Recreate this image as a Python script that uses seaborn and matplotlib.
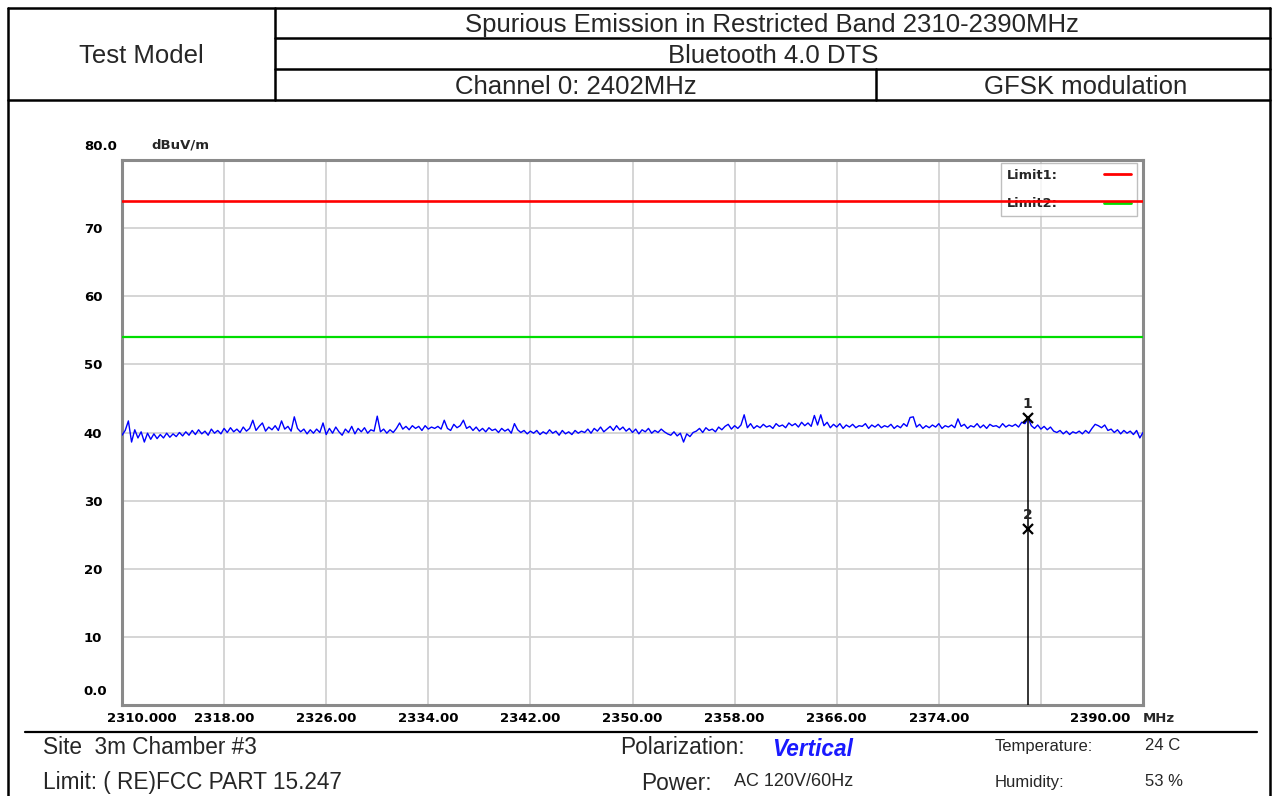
import numpy as np
import pandas as pd
import matplotlib
matplotlib.use("Agg")
import matplotlib.pyplot as plt
import matplotlib.transforms as mtransforms
from matplotlib.lines import Line2D
import seaborn as sns

# ---------------- data ----------------
freq_start = 2310.0
freq_step = 0.25
level_dbuv = [
    39.6, 40.3, 41.7, 38.6, 40.4, 39.2, 40.1, 38.6, 39.9, 39.0, 39.8, 39.1, 39.7, 39.2, 39.9, 39.3, 39.8, 39.4, 40.0, 39.5,
    40.1, 39.6, 40.3, 39.7, 40.4, 39.8, 40.2, 39.6, 40.5, 39.9, 40.3, 39.8, 40.6, 40.0, 40.7, 40.1, 40.5, 40.0, 40.8, 40.2,
    40.6, 41.8, 40.3, 40.9, 41.4, 40.2, 40.8, 40.4, 41.0, 40.3, 41.7, 40.5, 40.9, 40.2, 42.3, 40.6, 40.1, 40.5, 39.8, 40.4,
    39.9, 40.5, 40.0, 41.4, 39.7, 40.6, 39.9, 40.8, 40.1, 39.6, 40.5, 40.0, 40.9, 39.8, 40.6, 40.1, 40.7, 39.9, 40.4, 40.2,
    42.4, 40.1, 40.5, 39.9, 40.4, 40.0, 40.6, 41.4, 40.5, 40.9, 40.4, 41.0, 40.6, 40.9, 40.3, 41.0, 40.5, 40.8, 40.6, 40.9,
    40.5, 41.8, 40.6, 40.3, 41.2, 40.7, 41.0, 41.8, 40.6, 40.9, 40.3, 40.8, 40.2, 40.6, 40.1, 40.7, 40.3, 40.5, 40.0, 40.6,
    40.2, 40.5, 39.9, 41.3, 40.4, 40.0, 40.3, 39.8, 40.2, 39.9, 40.3, 39.7, 40.1, 39.8, 40.4, 39.9, 40.2, 39.6, 40.3, 39.8,
    40.1, 39.7, 40.3, 39.9, 40.2, 40.0, 40.5, 39.9, 40.6, 40.2, 40.8, 40.1, 40.5, 40.9, 40.3, 41.0, 40.4, 40.8, 40.2, 40.6,
    40.0, 40.5, 39.8, 40.4, 40.1, 40.6, 39.9, 40.3, 40.0, 40.5, 40.1, 39.8, 39.6, 40.1, 39.5, 39.9, 38.6, 39.8, 39.4, 40.0,
    40.2, 40.6, 40.0, 40.7, 40.3, 40.5, 40.1, 40.8, 40.4, 40.9, 41.2, 40.5, 41.0, 40.6, 41.1, 42.6, 40.7, 41.3, 40.6, 41.0,
    40.7, 41.2, 40.8, 41.0, 40.6, 41.3, 40.9, 41.1, 40.7, 41.4, 41.0, 41.3, 40.8, 41.5, 41.0, 41.4, 40.9, 42.5, 41.1, 42.6,
    41.0, 41.5, 40.7, 41.2, 40.8, 41.3, 40.6, 41.1, 40.8, 41.2, 40.7, 41.0, 40.9, 41.3, 40.6, 41.1, 40.8, 41.2, 40.7, 41.0,
    40.8, 41.2, 40.6, 41.0, 40.7, 41.3, 40.9, 42.2, 42.3, 40.8, 41.2, 40.6, 41.0, 40.7, 41.1, 40.8, 41.3, 40.6, 41.0, 40.8,
    41.1, 40.7, 42.0, 40.9, 41.2, 40.6, 41.0, 40.8, 41.3, 40.7, 41.1, 40.6, 41.2, 40.9, 41.0, 40.7, 41.3, 40.8, 41.1, 40.9,
    41.2, 40.8, 41.5, 41.3, 42.1, 41.0, 40.6, 41.1, 40.5, 40.9, 40.4, 40.8, 40.2, 40.0, 40.3, 39.8, 40.2, 39.7, 40.1, 39.9,
    40.2, 39.8, 40.3, 39.9, 40.6, 41.2, 41.0, 40.7, 41.1, 40.3, 40.5, 40.0, 40.4, 39.8, 40.3, 39.9, 40.2, 39.7, 40.3, 39.2,
    40.0,
]
limit1_level = 74.0
limit2_level = 54.0
limit_names = ["Limit1:", "Limit2:"]
marker_names = ["1", "2"]
marker_freq = [2380.96, 2380.96]
marker_level = [42.1, 25.8]

x_ticks = [2310, 2318, 2326, 2334, 2342, 2350, 2358, 2366, 2374, 2382, 2390]
x_tick_labels = ["2310.000", "2318.00", "2326.00", "2334.00", "2342.00", "2350.00",
                 "2358.00", "2366.00", "2374.00", "", "2390.00"]
y_ticks = [0, 10, 20, 30, 40, 50, 60, 70, 80]
y_tick_labels = ["0.0", "10", "20", "30", "40", "50", "60", "70", "80.0"]

header_title = "Spurious Emission in Restricted Band 2310-2390MHz"
header_mode = "Bluetooth 4.0 DTS"
header_channel = "Channel 0: 2402MHz"
header_mod = "GFSK modulation"
header_left = "Test Model"

# ---------------- figure ----------------
W, H = 1273, 796
sns.set_theme(style="white")
plt.rcParams["font.family"] = ["Liberation Sans", "DejaVu Sans"]

fig = plt.figure(figsize=(W / 100, H / 100), dpi=100)
fig.patch.set_facecolor("white")


def fx(x):
    return x / W


def fy(y):
    return 1 - y / H


ax = fig.add_axes([fx(122), fy(705), (1143 - 122) / W, (705 - 160) / H])
ax.set_facecolor("white")

df = pd.DataFrame({
    "freq": freq_start + freq_step * np.arange(len(level_dbuv)),
    "level": level_dbuv,
})

sns.lineplot(data=df, x="freq", y="level", color="#0000ff", linewidth=1.0, ax=ax, zorder=4)

l1 = ax.axhline(limit1_level, color="#ff0000", linewidth=1.9, zorder=7)
l2 = ax.axhline(limit2_level, color="#00dd00", linewidth=1.6, zorder=7)

# markers
ax.vlines(marker_freq[0], 0, marker_level[0], color="black", linewidth=1.1, zorder=8)
ax.plot(marker_freq, marker_level, linestyle="none", marker="x", color="black",
        markersize=7.5, markeredgewidth=1.6, zorder=9)
for name, f, lv in zip(marker_names, marker_freq, marker_level):
    ax.annotate(name, (f, lv), xytext=(0, 5), textcoords="offset points",
                ha="center", va="bottom", fontsize=10, fontweight="bold",
                family="DejaVu Sans", zorder=9)

ax.set_xlim(x_ticks[0], x_ticks[-1])
ax.set_ylim(y_ticks[0], y_ticks[-1])
ax.set_xticks(x_ticks)
ax.set_xticklabels(x_tick_labels)
ax.set_yticks(y_ticks)
ax.set_yticklabels(y_tick_labels)
ax.set_xlabel("")
ax.set_ylabel("")
ax.grid(True, color="#d2d2d2", linewidth=1.3, zorder=0)
ax.set_axisbelow(True)

for sp in ax.spines.values():
    sp.set_color("#8a8a8a")
    sp.set_linewidth(2.2)
    sp.set_visible(True)

ax.tick_params(axis="both", length=0)
ax.tick_params(axis="x", pad=5)
ax.tick_params(axis="y", pad=27.5)
for lbl in ax.get_xticklabels() + ax.get_yticklabels():
    lbl.set_fontfamily("DejaVu Sans")
    lbl.set_fontweight("bold")
    lbl.set_fontsize(9.5)
    lbl.set_color("black")
for lbl in ax.get_yticklabels():
    lbl.set_horizontalalignment("left")

# offset end labels as in the reference
up = mtransforms.ScaledTranslation(0, 15 / 100, fig.dpi_scale_trans)
ylabels = ax.get_yticklabels()
ylabels[0].set_transform(ylabels[0].get_transform() + up)
ylabels[-1].set_transform(ylabels[-1].get_transform() + up)
xlabels = ax.get_xticklabels()
xlabels[0].set_horizontalalignment("left")
xlabels[0].set_transform(xlabels[0].get_transform() +
                         mtransforms.ScaledTranslation(-15 / 100, 0, fig.dpi_scale_trans))
xlabels[-1].set_horizontalalignment("right")
xlabels[-1].set_transform(xlabels[-1].get_transform() +
                          mtransforms.ScaledTranslation(-13 / 100, 0, fig.dpi_scale_trans))

fig.text(fx(151), fy(145), "dBuV/m", ha="left", va="center", fontsize=9.5,
         fontweight="bold", family="DejaVu Sans")
fig.text(fx(1143), fy(718), "MHz", ha="left", va="center", fontsize=9.5,
         fontweight="bold", family="DejaVu Sans")

# legend
handles = [Line2D([], [], color="#ff0000", linewidth=2),
           Line2D([], [], color="#00dd00", linewidth=2)]
leg = ax.legend(handles, limit_names, loc="upper right",
                bbox_to_anchor=((1137 - 122) / 1021, 1 - 3 / 545),
                markerfirst=False, frameon=True, fancybox=False,
                borderaxespad=0, borderpad=0.45, handlelength=2.1,
                handletextpad=3.6, labelspacing=1.2,
                prop={"family": "DejaVu Sans", "weight": "bold", "size": 9.3})
leg.get_frame().set_edgecolor("#b0b0b0")
leg.get_frame().set_linewidth(1.0)
leg.set_zorder(5)

# ---------------- page frame / header table ----------------
def hline(y, x0, x1, lw=1.8):
    fig.add_artist(Line2D([fx(x0), fx(x1)], [fy(y), fy(y)], color="black",
                          linewidth=lw, transform=fig.transFigure))


def vline(x, y0, y1, lw=1.8):
    fig.add_artist(Line2D([fx(x), fx(x)], [fy(y0), fy(y1)], color="black",
                          linewidth=lw, transform=fig.transFigure))


hline(8, 8, 1270)
hline(38, 275, 1270)
hline(69, 275, 1270)
hline(100, 8, 1270)
vline(8, 8, 796)
vline(1270, 8, 796)
vline(275, 8, 100)
vline(876, 69, 100)
hline(732, 25, 1257, lw=1.6)

hfs = 18.5
fig.text(fx(141), fy(56), header_left, ha="center", va="center", fontsize=hfs)
fig.text(fx(772), fy(25), header_title, ha="center", va="center", fontsize=hfs)
fig.text(fx(773), fy(56), header_mode, ha="center", va="center", fontsize=hfs)
fig.text(fx(576), fy(87), header_channel, ha="center", va="center", fontsize=hfs)
fig.text(fx(1086), fy(87), header_mod, ha="center", va="center", fontsize=hfs)

# footer
ffs = 16.3
fig.text(fx(43), fy(748), "Site  3m Chamber #3", ha="left", va="center", fontsize=ffs)
fig.text(fx(43), fy(783), "Limit: ( RE)FCC PART 15.247", ha="left", va="center", fontsize=ffs)
fig.text(fx(620), fy(748), "Polarization:", ha="left", va="center", fontsize=ffs)
fig.text(fx(772), fy(749), "Vertical", ha="left", va="center", fontsize=ffs,
         fontweight="bold", fontstyle="italic", color="#1a1aff")
fig.text(fx(641), fy(784), "Power:", ha="left", va="center", fontsize=ffs)
fig.text(fx(734), fy(781), "AC 120V/60Hz", ha="left", va="center", fontsize=13)
fig.text(fx(995), fy(746), "Temperature:", ha="left", va="center", fontsize=12)
fig.text(fx(1145), fy(746), "24 C", ha="left", va="center", fontsize=12)
fig.text(fx(995), fy(782), "Humidity:", ha="left", va="center", fontsize=12)
fig.text(fx(1145), fy(782), "53 %", ha="left", va="center", fontsize=12)

fig.savefig("out.png", dpi=100, facecolor="white")
